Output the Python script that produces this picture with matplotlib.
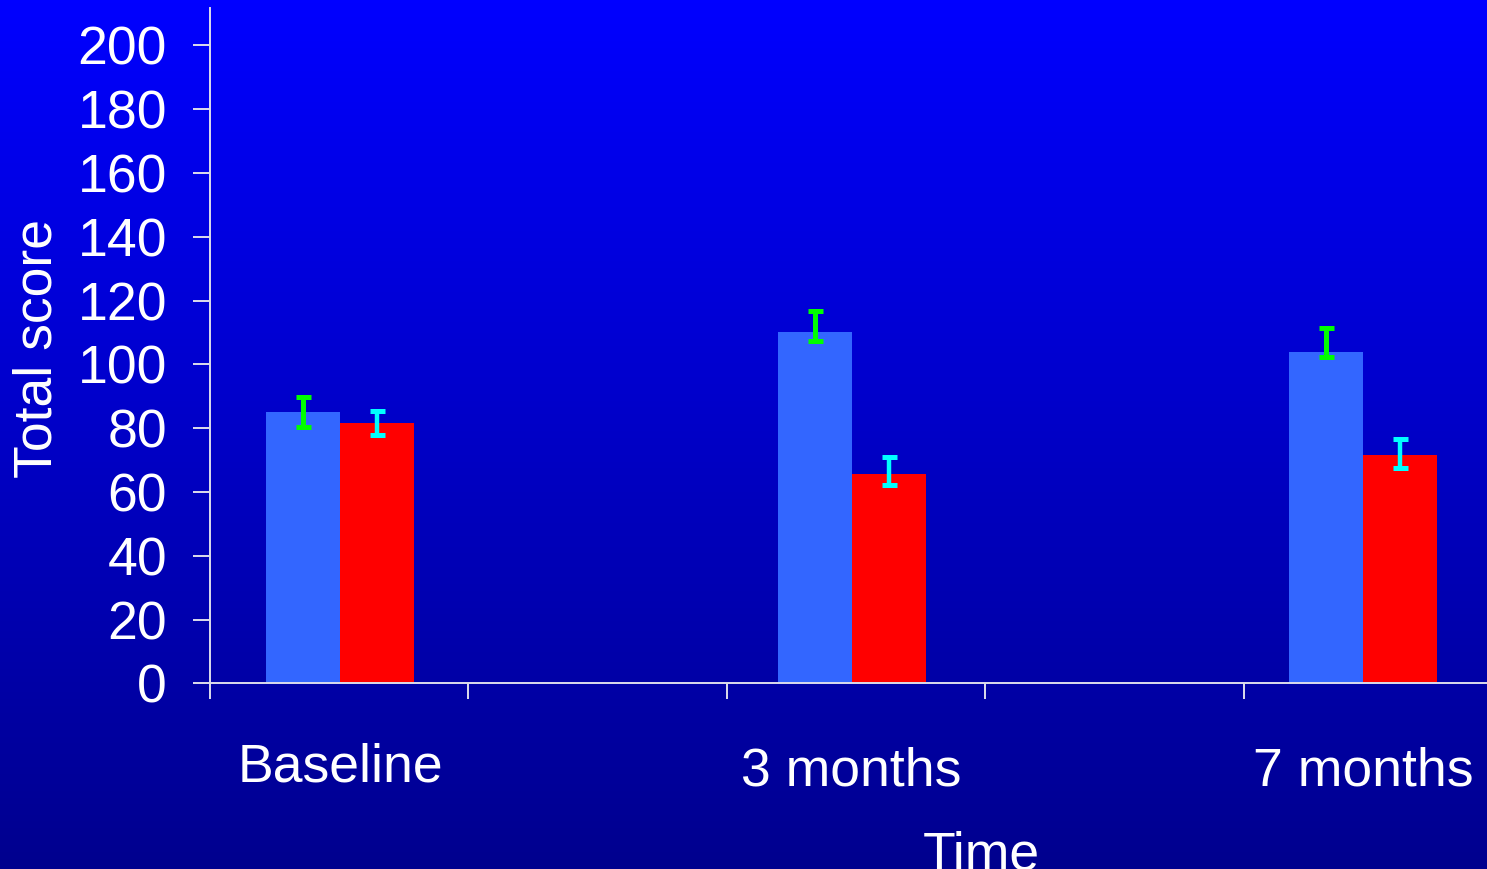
import numpy as np
import matplotlib
matplotlib.use("Agg")
import matplotlib.pyplot as plt
from matplotlib.colors import LinearSegmentedColormap
from matplotlib.transforms import blended_transform_factory

plt.rcParams["font.family"] = ["Liberation Sans", "DejaVu Sans"]

# data
categories = ["Baseline", "3 months", "7 months"]
blue_vals = [85.0, 110.1, 103.9]
blue_lo   = [80.4, 107.2, 102.4]
blue_hi   = [89.6, 116.8, 111.3]
red_vals  = [81.6, 65.6, 71.6]
red_lo    = [77.8, 62.3, 67.6]
red_hi    = [85.5, 71.0, 76.7]
yticks = [0, 20, 40, 60, 80, 100, 120, 140, 160, 180, 200]

W, H = 1487, 869
FS = 38.5
fig = plt.figure(figsize=(W / 100, H / 100), dpi=100)

# gradient background
bg = fig.add_axes([0, 0, 1, 1], zorder=-10)
cmap = LinearSegmentedColormap.from_list("bgblue", ["#0000FF", "#00008E"])
bg.imshow(np.linspace(0, 1, 256).reshape(-1, 1), aspect="auto", cmap=cmap,
          extent=[0, 1, 0, 1], origin="upper")
bg.axis("off")

# axes (runs off the right edge like the cropped slide)
left, right, bottom, top = 210, 1752, 683.3, 8
ax = fig.add_axes([left / W, 1 - bottom / H, (right - left) / W, (bottom - top) / H])
ax.set_facecolor("none")

x = np.arange(len(categories))
w = 0.1446
lc = "#DCDCEC"

ax.bar(x - w / 2, blue_vals, width=w, color="#3366FF", zorder=2)
ax.bar(x + w / 2, red_vals, width=w, color="#FF0000", zorder=2)

b_err = [np.array(blue_vals) - np.array(blue_lo), np.array(blue_hi) - np.array(blue_vals)]
r_err = [np.array(red_vals) - np.array(red_lo), np.array(red_hi) - np.array(red_vals)]
ax.errorbar(x - w / 2, blue_vals, yerr=b_err, fmt="none", ecolor="#00FF00",
            elinewidth=3.6, capsize=5.4, capthick=3.6, zorder=3)
ax.errorbar(x + w / 2, red_vals, yerr=r_err, fmt="none", ecolor="#00FFFF",
            elinewidth=3.2, capsize=5.4, capthick=3.6, zorder=3)

ax.set_yticks(yticks)
ax.set_yticklabels([str(v) for v in yticks], fontsize=FS, color="white")
ax.tick_params(axis="y", direction="out", length=12, width=1.4, color=lc, pad=19)

# category separators as tick marks, labels placed separately
ax.set_xticks(-0.254 + 0.505 * np.arange(6))
ax.set_xticklabels([])
ax.tick_params(axis="x", direction="out", length=11.5, width=1.4, color=lc)

ax.set_ylim(0, 211.7)
ax.set_xlim(-0.254, -0.254 + (right - left) / 511.7)

for s in ["top", "right"]:
    ax.spines[s].set_visible(False)
for s in ["left", "bottom"]:
    ax.spines[s].set_color(lc)
    ax.spines[s].set_linewidth(1.4)

trans = blended_transform_factory(ax.transData, fig.transFigure)
label_base = [782, 786, 786]
for xi, lab, yb in zip(x, categories, label_base):
    ax.text(xi, 1 - yb / H, lab, transform=trans, ha="center", va="baseline",
            fontsize=FS, color="white")

fig.text(38 / W, 1 - 348.5 / H, "Total score", rotation=90, ha="center", va="center",
         fontsize=FS, color="white")
fig.text(981 / W, 1 - 830 / H, "Time", ha="center", va="top",
         fontsize=FS, color="white")

fig.savefig("out.png", dpi=100)
